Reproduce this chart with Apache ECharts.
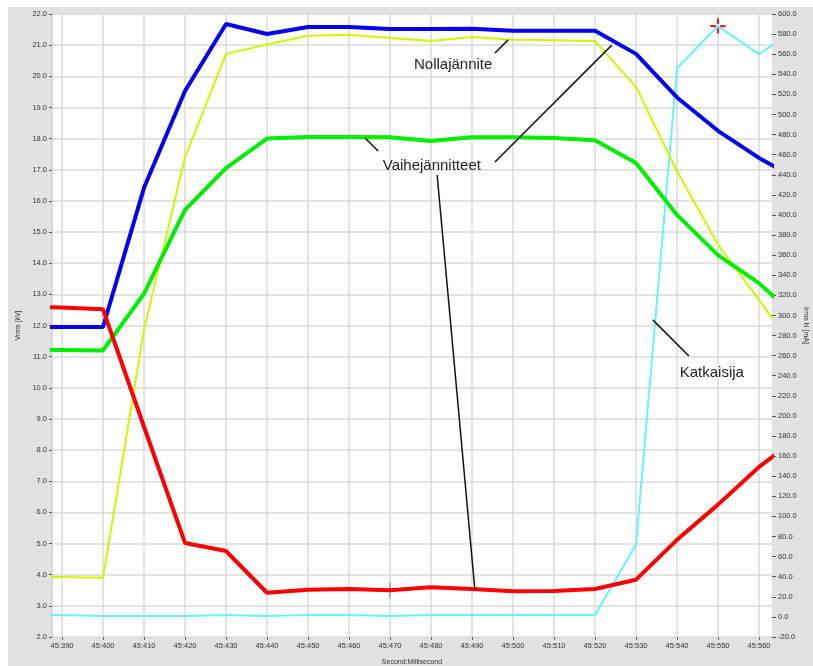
<!DOCTYPE html>
<html>
<head>
<meta charset="utf-8">
<script src="https://cdn.jsdelivr.net/npm/echarts@6/dist/echarts.min.js"></script>
<style>
  html, body { margin: 0; padding: 0; background: #ffffff; }
  #chart { position: absolute; left: 8px; top: 7px; width: 805px; height: 659px; background: #e2e2e2; }
</style>
</head>
<body>
<div id="chart"></div>
<script>
// Sample times (milliseconds within second 45)
const times = [380, 390, 400, 410, 420, 430, 440, 450, 460, 470, 480, 490, 500, 510, 520, 530, 540, 550, 560, 570];
// Tick labels on the time axis
const timeTicks = [390, 400, 410, 420, 430, 440, 450, 460, 470, 480, 490, 500, 510, 520, 530, 540, 550, 560];

// Voltages, kV rms
const blueV   = [11.95, 11.95, 11.95, 16.42, 19.53, 21.68, 21.36, 21.58, 21.58, 21.52, 21.52, 21.53, 21.46, 21.46, 21.46, 20.72, 19.32, 18.25, 17.38, 16.65];
const yellowV = [3.93, 3.93, 3.90, 11.86, 17.40, 20.72, 21.02, 21.30, 21.33, 21.23, 21.13, 21.26, 21.17, 21.16, 21.13, 19.66, 16.95, 14.60, 12.82, 11.00];
const greenV  = [11.21, 11.21, 11.20, 13.02, 15.71, 17.05, 18.00, 18.05, 18.05, 18.04, 17.92, 18.04, 18.04, 18.02, 17.95, 17.22, 15.55, 14.26, 13.36, 12.16];
const redV    = [12.60, 12.58, 12.52, 8.75, 5.02, 4.76, 3.42, 3.52, 3.54, 3.50, 3.60, 3.54, 3.47, 3.48, 3.54, 3.84, 5.12, 6.25, 7.46, 8.45];
// Breaker current, mA rms
const cyanI   = [2, 2, 1, 1, 1, 2, 1, 2, 2, 1, 2, 2, 2, 2, 2, 72, 546, 588, 560, 588];

// Annotation texts and leader lines, in [ms, kV]
const notes = [
  { text: 'Nollajännite', at: [485.4, 20.36] },
  { text: 'Vaihejännitteet', at: [480.2, 17.12] },
  { text: 'Katkaisija', at: [548.5, 10.47] }
];
const leaders = [
  [[495.6, 20.75], [498.8, 21.17]],
  [[463.9, 18.02], [467.1, 17.60]],
  [[495.6, 17.25], [524.1, 21.00]],
  [[481.5, 16.83], [490.7, 3.51]],
  [[534.1, 12.18], [542.9, 11.02]]
];

const pair = (xs, ys) => xs.map((x, i) => [x, ys[i]]);

const chart = echarts.init(document.getElementById('chart'), null, { renderer: 'canvas' });
const font = '"Liberation Sans", Arial, sans-serif';

const option = {
  backgroundColor: '#e2e2e2',
  animation: false,
  grid: {
    left: 44, top: 7, width: 720, height: 623,
    containLabel: false, outerBoundsMode: 'none',
    show: true, backgroundColor: '#ffffff', borderWidth: 0
  },
  xAxis: {
    type: 'value',
    min: 387.56,
    max: 563.17,
    name: 'Second:Millisecond',
    nameLocation: 'middle',
    nameGap: 22,
    nameMoveOverlap: false,
    nameTextStyle: { fontSize: 7, color: '#333', fontFamily: font },
    axisLine: { show: false, onZero: false },
    axisTick: { show: true, customValues: timeTicks, length: 3, lineStyle: { color: '#666' } },
    axisLabel: { customValues: timeTicks, formatter: v => '45:' + v, fontSize: 7.5, color: '#333', fontFamily: font, margin: 5 },
    splitLine: { show: true, lineStyle: { color: '#dadada', width: 1.5 } }
  },
  yAxis: [
    {
      type: 'value', min: 2, max: 22, interval: 1, position: 'left',
      name: 'Vrms [kV]', nameLocation: 'middle', nameGap: 30, nameMoveOverlap: false,
      nameTextStyle: { fontSize: 7, color: '#333', fontFamily: font },
      axisLine: { show: true, onZero: false, lineStyle: { color: '#cfcfcf', width: 1.5 } },
      axisTick: { show: true, length: 3, lineStyle: { color: '#555' } },
      axisLabel: { formatter: v => v.toFixed(1), fontSize: 7.5, color: '#333', fontFamily: font, margin: 5 },
      splitLine: { show: true, lineStyle: { color: '#dadada', width: 1.5 } }
    },
    {
      type: 'value', min: -20, max: 600, interval: 20, position: 'right',
      name: 'Irms N [mA]', nameLocation: 'middle', nameGap: 30, nameRotate: -90, nameMoveOverlap: false,
      nameTextStyle: { fontSize: 7, color: '#333', fontFamily: font },
      axisLine: { show: false, onZero: false },
      axisTick: { show: true, length: 4, lineStyle: { color: '#555' } },
      axisLabel: { formatter: v => v.toFixed(1), fontSize: 7.5, color: '#333', fontFamily: font, margin: 6 },
      splitLine: { show: false }
    }
  ],
  series: [
    {
      name: 'Katkaisija', type: 'line', yAxisIndex: 1, data: pair(times, cyanI),
      symbol: 'none', lineStyle: { color: '#66f2ff', width: 2 }, z: 2,
      markPoint: {
        // cursor cross with an open centre
        symbol: 'path://M6,0 L8,0 L8,5 L6,5 Z M6,9 L8,9 L8,14 L6,14 Z M0,6 L5,6 L5,8 L0,8 Z M9,6 L14,6 L14,8 L9,8 Z',
        symbolSize: 15,
        itemStyle: { color: '#e8201c' },
        label: { show: false },
        data: [{ coord: [550, 588] }]
      }
    },
    {
      name: 'Nollajännite', type: 'line', yAxisIndex: 0, data: pair(times, yellowV),
      symbol: 'none', lineStyle: { color: '#d4f500', width: 2 }, z: 3
    },
    {
      name: 'Vaihe 1', type: 'line', yAxisIndex: 0, data: pair(times, greenV),
      symbol: 'none', lineStyle: { color: '#00ee00', width: 4 }, z: 4
    },
    {
      name: 'Vaihe 2', type: 'line', yAxisIndex: 0, data: pair(times, blueV),
      symbol: 'none', lineStyle: { color: '#0000ee', width: 4 }, z: 5
    },
    {
      name: 'Vaihe 3', type: 'line', yAxisIndex: 0, data: pair(times, redV),
      symbol: 'none', lineStyle: { color: '#ff0000', width: 4 }, z: 6,
      markPoint: {
        symbol: 'rect', symbolSize: [1.5, 16],
        itemStyle: { color: '#9aa3a3' },
        label: { show: false },
        data: [{ coord: [470, 3.5] }]
      }
    }
  ]
};
chart.setOption(option);

// Annotation layer placed through the axes' own scales
const toPx = p => chart.convertToPixel({ xAxisIndex: 0, yAxisIndex: 0 }, p);
const graphics = [];
leaders.forEach(([a, b]) => {
  const p1 = toPx(a), p2 = toPx(b);
  graphics.push({ type: 'line', shape: { x1: p1[0], y1: p1[1], x2: p2[0], y2: p2[1] }, style: { stroke: '#111', lineWidth: 1.5 }, z: 20 });
});
notes.forEach(n => {
  const p = toPx(n.at);
  graphics.push({ type: 'text', x: p[0], y: p[1], style: { text: n.text, fill: '#222', font: '15px ' + font, align: 'center', verticalAlign: 'middle' }, z: 20 });
});
chart.setOption({ graphic: graphics });
</script>
</body>
</html>
